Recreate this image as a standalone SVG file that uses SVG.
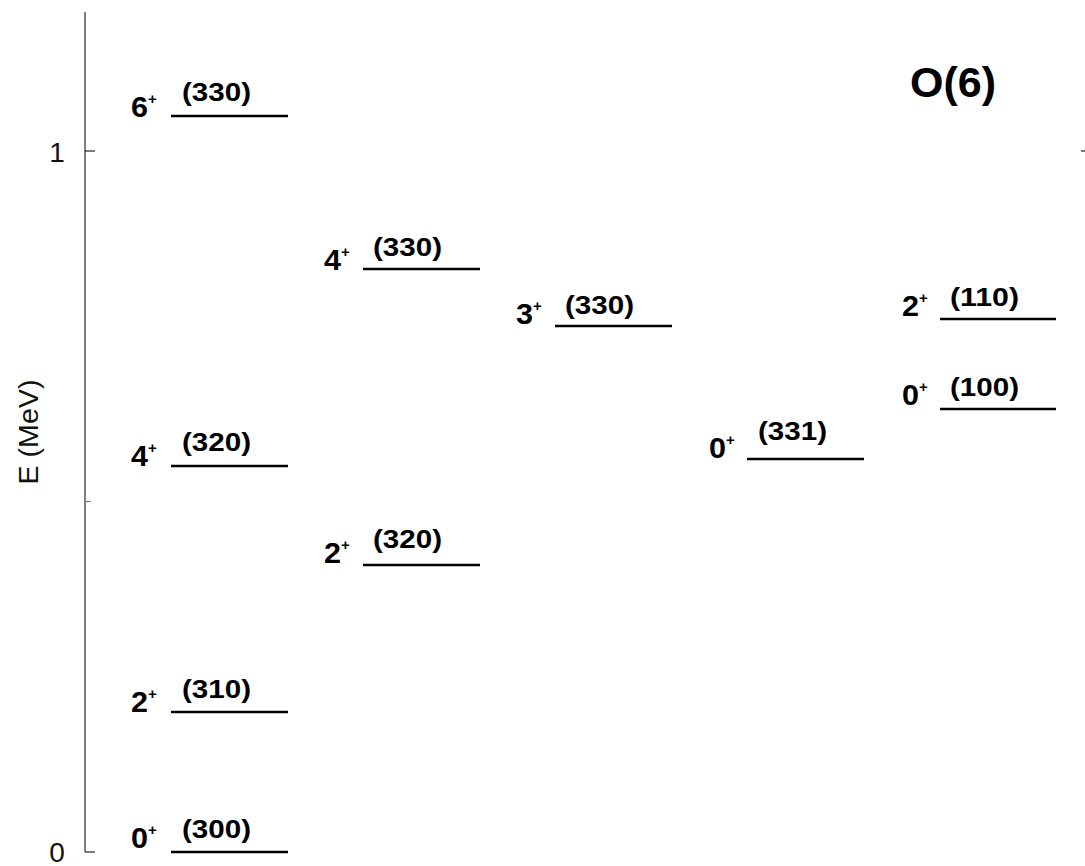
<svg xmlns="http://www.w3.org/2000/svg" width="1085" height="866" viewBox="0 0 1085 866">
  <style>
    .axis { stroke: #7f7f7f; stroke-width: 2; fill: none; }
    .tick { stroke: #222; stroke-width: 1.2; }
    .tick-minor { stroke: #7f7f7f; stroke-width: 1.2; }
    .axlabel { font-family: "Liberation Sans", Arial, sans-serif; font-size: 28px; fill: #111; }
    .level { stroke: #000; stroke-width: 2.5; }
    .spin { font-family: "Liberation Sans", Arial, sans-serif; font-weight: bold; font-size: 29px; fill: #000; }
    .parity { font-family: "Liberation Sans", Arial, sans-serif; font-weight: bold; font-size: 15px; fill: #000; }
    .quanta { font-family: "Liberation Sans", Arial, sans-serif; font-weight: bold; font-size: 26px; fill: #000; }
    .title { font-family: "Liberation Sans", Arial, sans-serif; font-weight: bold; font-size: 42px; fill: #000; }
  </style>
  <rect width="1085" height="866" fill="#ffffff"/>

  <!-- energy axis -->
  <g id="axis">
    <line class="axis" x1="85" y1="12" x2="85" y2="852"/>
    <line class="tick" x1="85" y1="852" x2="95" y2="852"/>
    <line class="tick" x1="85" y1="151" x2="95" y2="151"/>
    <line class="tick-minor" x1="85" y1="501.5" x2="91" y2="501.5"/>
    <line class="tick" x1="1081" y1="151" x2="1085" y2="151"/>
    <text class="axlabel" x="57" y="162" text-anchor="middle">1</text>
    <text class="axlabel" x="57" y="862" text-anchor="middle">0</text>
    <text class="axlabel" transform="translate(38,432) rotate(-90)" text-anchor="middle" textLength="105" lengthAdjust="spacingAndGlyphs">E (MeV)</text>
  </g>

  <g id="title">
    <text class="title" x="953" y="97" text-anchor="middle" textLength="86" lengthAdjust="spacingAndGlyphs">O(6)</text>
  </g>

  <!-- column 1 -->
  <g id="level-6-330">
    <line class="level" x1="171" y1="116" x2="288" y2="116"/>
    <text class="spin" x="131" y="117" textLength="17" lengthAdjust="spacingAndGlyphs">6</text>
    <text class="parity" x="148" y="104">+</text>
    <text class="quanta" x="182" y="101" textLength="69" lengthAdjust="spacingAndGlyphs">(330)</text>
  </g>
  <g id="level-4-320">
    <line class="level" x1="171" y1="466" x2="288" y2="466"/>
    <text class="spin" x="131" y="466" textLength="17" lengthAdjust="spacingAndGlyphs">4</text>
    <text class="parity" x="148" y="453">+</text>
    <text class="quanta" x="182" y="451" textLength="69" lengthAdjust="spacingAndGlyphs">(320)</text>
  </g>
  <g id="level-2-310">
    <line class="level" x1="171" y1="712" x2="288" y2="712"/>
    <text class="spin" x="131" y="712" textLength="17" lengthAdjust="spacingAndGlyphs">2</text>
    <text class="parity" x="148" y="699">+</text>
    <text class="quanta" x="182" y="698" textLength="69" lengthAdjust="spacingAndGlyphs">(310)</text>
  </g>
  <g id="level-0-300">
    <line class="level" x1="171" y1="852" x2="288" y2="852"/>
    <text class="spin" x="131" y="848" textLength="17" lengthAdjust="spacingAndGlyphs">0</text>
    <text class="parity" x="148" y="835">+</text>
    <text class="quanta" x="182" y="838" textLength="69" lengthAdjust="spacingAndGlyphs">(300)</text>
  </g>

  <!-- column 2 -->
  <g id="level-4-330">
    <line class="level" x1="363" y1="269" x2="480" y2="269"/>
    <text class="spin" x="324" y="270" textLength="17" lengthAdjust="spacingAndGlyphs">4</text>
    <text class="parity" x="341" y="257">+</text>
    <text class="quanta" x="373" y="256" textLength="69" lengthAdjust="spacingAndGlyphs">(330)</text>
  </g>
  <g id="level-2-320">
    <line class="level" x1="363" y1="565" x2="480" y2="565"/>
    <text class="spin" x="324" y="563" textLength="17" lengthAdjust="spacingAndGlyphs">2</text>
    <text class="parity" x="341" y="550">+</text>
    <text class="quanta" x="373" y="548" textLength="69" lengthAdjust="spacingAndGlyphs">(320)</text>
  </g>

  <!-- column 3 -->
  <g id="level-3-330">
    <line class="level" x1="555" y1="326" x2="672" y2="326"/>
    <text class="spin" x="516" y="324" textLength="17" lengthAdjust="spacingAndGlyphs">3</text>
    <text class="parity" x="533" y="311">+</text>
    <text class="quanta" x="565" y="314" textLength="69" lengthAdjust="spacingAndGlyphs">(330)</text>
  </g>

  <!-- column 4 -->
  <g id="level-0-331">
    <line class="level" x1="747" y1="459" x2="864" y2="459"/>
    <text class="spin" x="709" y="458" textLength="17" lengthAdjust="spacingAndGlyphs">0</text>
    <text class="parity" x="726" y="445">+</text>
    <text class="quanta" x="758" y="440" textLength="69" lengthAdjust="spacingAndGlyphs">(331)</text>
  </g>

  <!-- column 5 -->
  <g id="level-2-110">
    <line class="level" x1="940" y1="319" x2="1056" y2="319"/>
    <text class="spin" x="902" y="316" textLength="17" lengthAdjust="spacingAndGlyphs">2</text>
    <text class="parity" x="919" y="303">+</text>
    <text class="quanta" x="950" y="306" textLength="69" lengthAdjust="spacingAndGlyphs">(110)</text>
  </g>
  <g id="level-0-100">
    <line class="level" x1="940" y1="409" x2="1056" y2="409"/>
    <text class="spin" x="902" y="405" textLength="17" lengthAdjust="spacingAndGlyphs">0</text>
    <text class="parity" x="919" y="392">+</text>
    <text class="quanta" x="950" y="396" textLength="69" lengthAdjust="spacingAndGlyphs">(100)</text>
  </g>

  <g id="connectors"></g>
</svg>
